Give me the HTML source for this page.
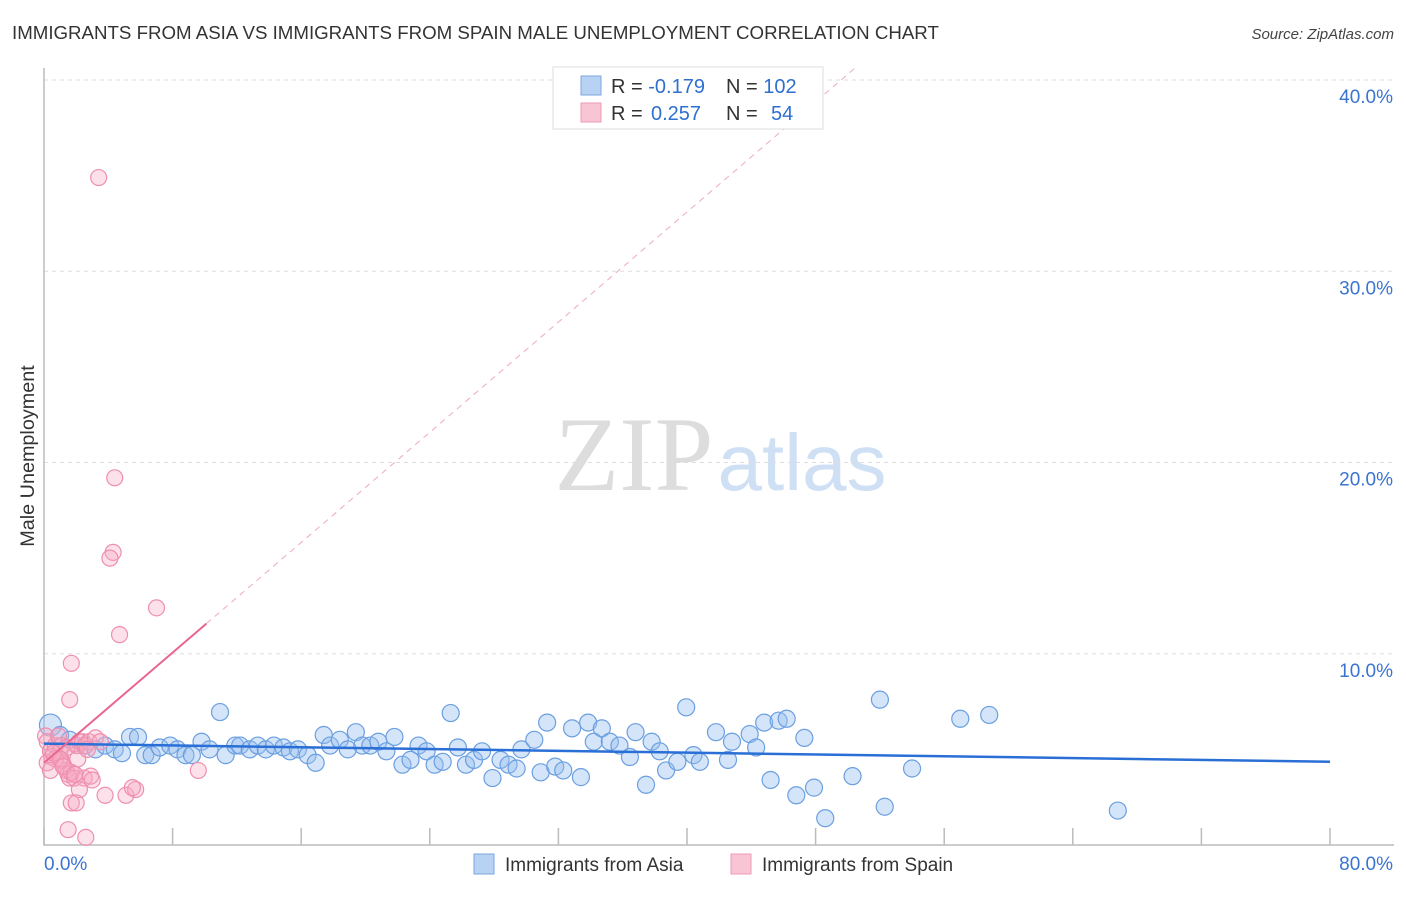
<!DOCTYPE html>
<html><head><meta charset="utf-8"><style>
body{margin:0;background:#fff;font-family:"Liberation Sans",sans-serif}
</style></head><body>
<svg id="c" width="1406" height="892" xmlns="http://www.w3.org/2000/svg">
<text x="12" y="39" font-size="18.7" fill="#333">IMMIGRANTS FROM ASIA VS IMMIGRANTS FROM SPAIN MALE UNEMPLOYMENT CORRELATION CHART</text>
<text x="1394" y="39" font-size="15" fill="#444" text-anchor="end" font-style="italic">Source: ZipAtlas.com</text>
<text x="34" y="456" font-size="19.8" fill="#333" text-anchor="middle" transform="rotate(-90 34 456)">Male Unemployment</text>
<g>
<text x="634" y="490" font-size="106" font-family="Liberation Serif,serif" fill="#ddd" text-anchor="middle">ZIP</text>
<text x="802" y="490" font-size="80" fill="#cfe0f5" text-anchor="middle">atlas</text>
</g>
<g id="grid"></g><g id="axes"></g><g id="pts"></g><g id="trend"></g>
<g>
<rect x="553" y="67" width="270" height="62" fill="#fff" stroke="#ddd"/>
<rect x="581" y="76" width="20" height="19" fill="#b8d2f3" stroke="#7aa6e0"/>
<rect x="581" y="103" width="20" height="19" fill="#f8c5d4" stroke="#ee9ab4"/>
<text x="611" y="93" font-size="20" fill="#333">R = <tspan fill="#2f6fd0">-0.179</tspan><tspan x="726">N = </tspan><tspan fill="#2f6fd0">102</tspan></text>
<text x="611" y="120" font-size="20" fill="#333">R = <tspan fill="#2f6fd0" x="651">0.257</tspan><tspan x="726">N = </tspan><tspan fill="#2f6fd0" x="771">54</tspan></text>
</g>
<g>
<rect x="474" y="854" width="20" height="20" fill="#b8d2f3" stroke="#7aa6e0"/>
<text x="505" y="871" font-size="19" fill="#333">Immigrants from Asia</text>
<rect x="731" y="854" width="20" height="20" fill="#f8c5d4" stroke="#ee9ab4"/>
<text x="762" y="871" font-size="19" fill="#333">Immigrants from Spain</text>
</g>
</svg>
<script>
const asiaX=[0.4,1.0,1.6,2.55,3.2,3.8,4.4,4.85,5.35,5.85,6.3,6.7,7.2,7.85,8.3,8.8,9.2,9.8,10.3,10.95,11.3,11.9,12.2,12.8,13.3,13.8,14.3,14.9,15.3,15.8,16.4,16.9,17.4,17.8,18.4,18.9,19.4,19.8,20.3,20.8,21.3,21.8,22.3,22.8,23.3,23.8,24.3,24.8,25.3,25.75,26.25,26.75,27.25,27.9,28.4,28.9,29.4,29.7,30.5,30.9,31.3,31.8,32.3,32.85,33.4,33.85,34.2,34.7,35.2,35.8,36.45,36.8,37.45,37.8,38.3,38.7,39.4,39.95,40.4,40.8,41.8,42.55,42.8,43.9,44.3,44.8,45.2,45.7,46.2,46.8,47.3,47.9,48.6,50.3,52.0,52.3,54.0,57.0,58.8,66.8];
const asiaY=[6.27,5.75,5.5,5.2,5.0,5.2,5.0,4.8,5.65,5.65,4.7,4.7,5.1,5.2,5.0,4.7,4.7,5.4,5.0,6.95,4.7,5.2,5.2,5.0,5.2,5.0,5.2,5.1,4.9,5.0,4.7,4.3,5.75,5.2,5.5,5.0,5.9,5.2,5.2,5.4,4.9,5.65,4.2,4.45,5.2,4.9,4.2,4.35,6.9,5.1,4.2,4.45,4.9,3.5,4.45,4.2,4.0,5.0,5.5,3.8,6.4,4.1,3.9,6.1,3.55,6.4,5.4,6.1,5.4,5.2,4.6,5.9,3.15,5.4,4.9,3.9,4.35,7.2,4.7,4.35,5.9,4.45,5.4,5.8,5.1,6.4,3.4,6.5,6.6,2.6,5.6,3.0,1.4,3.6,7.6,2.0,4.0,6.6,6.8,1.8];
const spainX=[0.1,0.2,0.4,0.5,0.7,0.9,1,1.1,1.2,1.4,1.5,1.6,1.7,1.9,2,2.1,2.2,2.4,2.6,2.8,3.2,3.4,1.7,1.6,4.4,4.3,4.1,7,4.7,2.1,2.5,2.9,2.2,3,3.8,5.1,5.7,5.5,9.6,1.7,2,1.5,2.6,3.5,1.1,0.7,1.4,0.2,0.4,0.6,1,1.2,1.9,2.7];
const spainY=[5.7,5.4,4.9,4.6,5.2,5.7,4.9,4.4,4.2,3.9,3.7,3.5,3.8,3.5,5.2,5.2,5.4,5.4,5.2,5.4,5.6,34.9,9.5,7.6,19.2,15.3,15,12.4,11,4.5,3.5,3.6,2.9,3.4,2.6,2.6,2.9,3,3.9,2.2,2.2,0.8,0.4,5.4,5.2,4.5,5.1,4.3,3.9,4.8,4.5,4.1,3.7,5];
const yTicks=[10,20,30,40],yLabels=["10.0%","20.0%","30.0%","40.0%"];
const xTicks=[0,8,16,24,32,40,48,56,64,72,80];
const NS="http://www.w3.org/2000/svg";
const sx=v=>44+v*16.075, sy=v=>845-v*19.125;
function mk(t,a,p){const e=document.createElementNS(NS,t);for(const k in a)e.setAttribute(k,a[k]);document.getElementById(p).appendChild(e);return e;}
yTicks.forEach((v,i)=>{
 let l=mk('line',{x1:44,x2:1394,y1:sy(v),y2:sy(v),stroke:'#ddd','stroke-dasharray':'4,4'},'grid');
 
 
 let t=mk('text',{x:1393,y:sy(v)+23,'font-size':19,fill:'#3a74d0','text-anchor':'end'},'grid');t.textContent=yLabels[i];
 
 
});
let a=mk('path',{d:'M44,68V845H1394',fill:'none',stroke:'#bbb','stroke-width':1.5},'axes');


xTicks.forEach(v=>{let l=mk('line',{x1:sx(v),x2:sx(v),y1:828,y2:845,stroke:'#bbb','stroke-width':1.5},'axes');
 
 });
[["0.0%",44,'start'],["80.0%",1393,'end']].forEach(d=>{let t=mk('text',{x:d[1],y:870,'font-size':19,fill:'#3a74d0','text-anchor':d[2]},'axes');t.textContent=d[0];
 
 });
asiaX.forEach((x,i)=>{let c=mk('circle',{cx:sx(x),cy:sy(asiaY[i]),r:i==0?11:8.5,fill:'rgba(150,190,240,0.4)',stroke:'#6a9fe0','stroke-width':1.2},'pts');
 
 });
spainX.forEach((x,i)=>{let c=mk('circle',{cx:sx(x),cy:sy(spainY[i]),r:8,fill:'rgba(245,170,195,0.35)',stroke:'#ee8fae','stroke-width':1.2},'pts');
 
 });
const aB=[5.3,-0.0118], sB=[4.3,0.72];
let t1=mk('line',{x1:sx(0),y1:sy(aB[0]),x2:sx(80),y2:sy(aB[0]+80*aB[1]),stroke:'#2a6fd6','stroke-width':2.5},'trend');


let t2=mk('line',{x1:sx(0),y1:sy(sB[0]),x2:sx(10.1),y2:sy(sB[0]+10.1*sB[1]),stroke:'#e86690','stroke-width':2},'trend');


let xe=(40.6-sB[0])/sB[1];
let t3=mk('line',{x1:sx(10.1),y1:sy(sB[0]+10.1*sB[1]),x2:sx(xe),y2:sy(40.6),stroke:'#eeaabf','stroke-width':1,'stroke-dasharray':'6,5'},'trend');


</script>
</body></html>
